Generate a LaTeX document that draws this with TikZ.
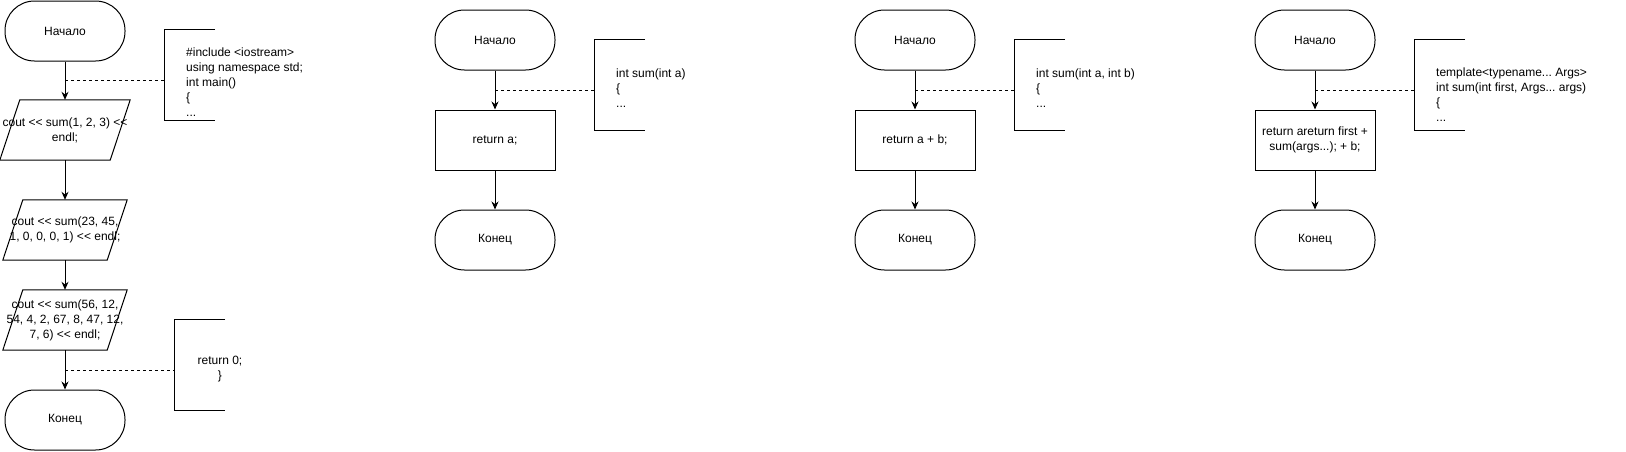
\documentclass[tikz,border=0pt]{standalone}
\usepackage{fontspec}
\setmainfont{Liberation Sans}
\frenchspacing
\usetikzlibrary{arrows.meta}

\tikzset{
  term/.style={draw, line width=1pt, rounded corners=29.5pt, minimum width=120pt, minimum height=60pt, inner sep=0pt},
  proc/.style={draw, line width=1pt, minimum width=120pt, minimum height=60pt, inner sep=0pt, align=center},
  io/.style={minimum width=#1, minimum height=60pt, inner xsep=-12pt, inner ysep=0pt, align=center,
    append after command={\pgfextra{\draw[line width=1pt]
      ([xshift=10pt]\tikzlastnode.north west) -- ([xshift=10pt]\tikzlastnode.north east)
      -- ([xshift=-10pt]\tikzlastnode.south east) -- ([xshift=-10pt]\tikzlastnode.south west) -- cycle;}}},
  io/.default=110pt,
  bracket/.style={minimum width=50pt, minimum height=90pt, inner sep=0pt,
    append after command={\pgfextra{\draw[line width=1pt]
      (\tikzlastnode.north east) -- (\tikzlastnode.north west)
      -- (\tikzlastnode.south west) -- (\tikzlastnode.south east);}}},
  code/.style={anchor=west, align=left, inner sep=0pt},
  flow/.style={line width=1pt, -{Stealth[length=8pt,width=7pt]}},
  link/.style={line width=1pt, dash pattern=on 3pt off 3pt}
}

\begin{document}
\begin{tikzpicture}[x=1pt, y=-1pt, font=\fontsize{12}{15}\selectfont]
\useasboundingbox (0,0) rectangle (1626,451);

\node[term] (start1) at (65,31) {Начало};
\node[io] (out1) at (65,130) {cout <{}< sum(1, 2, 3) <{}<\\endl;};
\node[io=104pt] (out2) at (65,230) {cout <{}< sum(23, 45,\\1, 0, 0, 0, 1) <{}< endl;};
\node[io=104pt] (out3) at (65,320) {cout <{}< sum(56, 12,\\54, 4, 2, 67, 8, 47, 12,\\7, 6) <{}< endl;};
\node[term] (end1) at (65,420) {Конец};
\draw[flow] (start1) -- (out1);
\draw[flow] (out1) -- (out2);
\draw[flow] (out2) -- (out3);
\draw[flow] (out3) -- (end1);

\node[bracket] (br1) at (190,75) {};
\node[code] (txt1) at (186,82) {\#include <iostream>\\using namespace std;\\int main()\\\{\\...};
\coordinate (m1) at (65,80);
\draw[link] (m1) -- (m1 -| br1.west);

\node[bracket] (br2) at (200,365) {};
\node[align=center, inner sep=0pt] (txt2) at (220,369) {return 0;\\\}};
\coordinate (m2) at (65,370);
\draw[link] (m2) -- (m2 -| br2.west);

\node[term] (start2) at (495,40) {Начало};
\node[proc] (ret2) at (495,140) {return a;};
\node[term] (end2) at (495,240) {Конец};
\draw[flow] (start2) -- (ret2);
\draw[flow] (ret2) -- (end2);
\node[bracket] (br3) at (620,85) {};
\node[code] (txt3) at (616,88) {int sum(int a)\\\{\\...};
\coordinate (m3) at (495,90);
\draw[link] (m3) -- (m3 -| br3.west);

\node[term] (start3) at (915,40) {Начало};
\node[proc] (ret3) at (915,140) {return a + b;};
\node[term] (end3) at (915,240) {Конец};
\draw[flow] (start3) -- (ret3);
\draw[flow] (ret3) -- (end3);
\node[bracket] (br4) at (1040,85) {};
\node[code] (txt4) at (1036,88) {int sum(int a, int b)\\\{\\...};
\coordinate (m4) at (915,90);
\draw[link] (m4) -- (m4 -| br4.west);

\node[term] (start4) at (1315,40) {Начало};
\node[proc] (ret4) at (1315,140) {return areturn first +\\sum(args...); + b;};
\node[term] (end4) at (1315,240) {Конец};
\draw[flow] (start4) -- (ret4);
\draw[flow] (ret4) -- (end4);
\node[bracket] (br5) at (1440,85) {};
\node[code] (txt5) at (1436,95) {template<typename... Args>\\int sum(int first, Args... args)\\\{\\...};
\coordinate (m5) at (1315,90);
\draw[link] (m5) -- (m5 -| br5.west);
\end{tikzpicture}
\end{document}
